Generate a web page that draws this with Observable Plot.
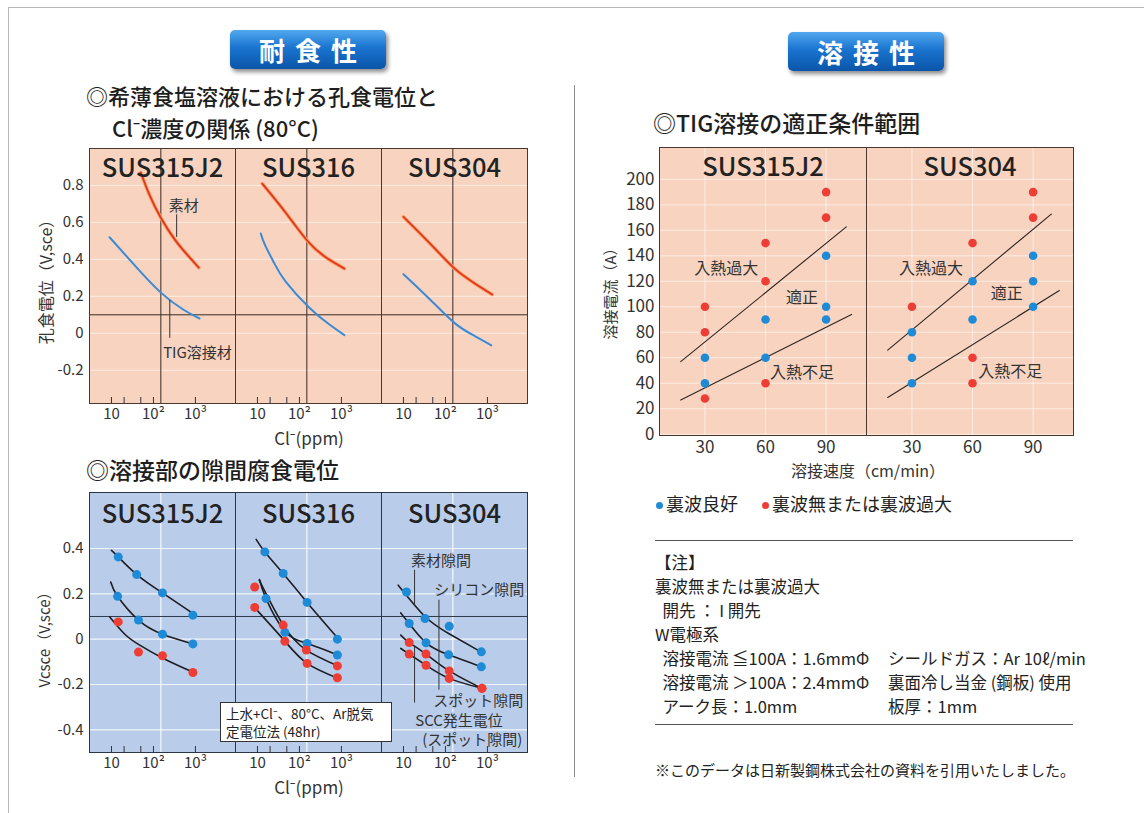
<!DOCTYPE html>
<html lang="ja"><head><meta charset="utf-8">
<script src="https://cdn.jsdelivr.net/npm/d3@7"></script>
<script src="https://cdn.jsdelivr.net/npm/@observablehq/plot@0.6"></script>
<style>
html,body{margin:0;padding:0;background:#fff;}
#page{position:relative;width:1144px;height:813px;overflow:hidden;font-family:"Noto Sans CJK JP","Noto Sans",sans-serif;color:#222;}
.a{position:absolute;white-space:nowrap;}
.btn{position:absolute;width:156px;height:39px;border-radius:5px;background:linear-gradient(180deg,#52a8ee 0%,#1a74d0 45%,#0a55a8 100%);box-shadow:2px 3px 4px rgba(0,0,0,.45);color:#fff;font-size:26px;font-weight:700;text-align:center;line-height:39px;letter-spacing:10px;text-indent:10px;}
.sec{font-size:23px;font-weight:500;line-height:26px;color:#1e1e1e;}
.rot{position:absolute;transform:translate(-50%,-50%) rotate(-90deg);white-space:nowrap;}
.ctr{position:absolute;transform:translate(-50%,-50%);white-space:nowrap;}
.note{font-size:16.5px;line-height:24px;color:#222;}
.chart{position:absolute;}
.dot{display:inline-block;width:7px;height:7px;border-radius:50%;margin-right:3px;vertical-align:middle;position:relative;top:-1px;}
</style></head><body><div id="page">
  <div class="a" style="left:8px;top:7px;width:1200px;height:900px;border-top:1px solid #b8b8b8;border-left:1px solid #b8b8b8;"></div>
  <div class="a" style="left:574px;top:85px;width:1px;height:692px;background:#8a8a8a;"></div>
  <div class="btn" style="left:230px;top:30px;">耐食性</div>
  <div class="btn" style="left:788px;top:32px;">溶接性</div>
  <div class="a sec" style="left:86px;top:82px;font-size:22px;">◎希薄食塩溶液における孔食電位と</div>
  <div class="a sec" style="left:112px;top:114px;font-size:22px;">Cl⁻濃度の関係 (80°C)</div>
  <div class="a sec" style="left:86px;top:456px;">◎溶接部の隙間腐食電位</div>
  <div class="a sec" style="left:653px;top:109px;">◎TIG溶接の適正条件範囲</div>

  <div id="chartA" class="chart" style="left:0;top:140px;"></div>
  <div id="chartB" class="chart" style="left:0;top:484px;"></div>
  <div id="chartC" class="chart" style="left:580px;top:139px;"></div>

  <div class="rot" style="left:45px;top:278px;font-size:16px;color:#333;">孔食電位（V,sce）</div>
  <div class="ctr" style="left:309px;top:437px;font-size:17px;color:#333;">Cl⁻(ppm)</div>
  <div class="rot" style="left:43px;top:636px;font-size:15px;color:#333;">Vcsce（V,sce）</div>
  <div class="ctr" style="left:309px;top:786px;font-size:17px;color:#333;">Cl⁻(ppm)</div>
  <div class="rot" style="left:609px;top:290px;font-size:15px;color:#333;">溶接電流（A）</div>
  <div class="ctr" style="left:868px;top:470px;font-size:16px;color:#333;">溶接速度（cm/min）</div>

  <div class="a" style="left:220px;top:702px;width:170px;height:38px;border:1px solid #333;background:#fff;box-sizing:content-box;color:#222;">
    <div class="a" style="left:5px;top:1px;font-size:13.5px;line-height:18px;">上水+Cl⁻、80°C、Ar脱気</div>
    <div class="a" style="left:5px;top:19px;font-size:13.5px;line-height:18px;">定電位法 (48hr)</div>
  </div>

  <div class="a" style="left:656px;top:491px;font-size:18px;line-height:24px;"><span class="dot" style="background:#1f8ad6"></span>裏波良好<span style="display:inline-block;width:24px"></span><span class="dot" style="background:#ee3d34"></span>裏波無または裏波過大</div>
  <div class="a" style="left:655px;top:540px;width:418px;height:1px;background:#555;"></div>
  <div class="a note" style="left:655px;top:550px;">【注】<br>裏波無または裏波過大<br>&nbsp;&nbsp;開先 ： I 開先<br>W電極系<br>&nbsp;&nbsp;溶接電流 ≦100A：1.6mmΦ<br>&nbsp;&nbsp;溶接電流 ＞100A：2.4mmΦ<br>&nbsp;&nbsp;アーク長：1.0mm</div>
  <div class="a note" style="left:888px;top:646px;">シールドガス：Ar 10ℓ/min<br>裏面冷し当金 (鋼板) 使用<br>板厚：1mm</div>
  <div class="a" style="left:655px;top:724px;width:418px;height:1px;background:#555;"></div>
  <div class="a" style="left:655px;top:759px;font-size:15px;line-height:22px;">※このデータは日新製鋼株式会社の資料を引用いたしました。</div>
</div>
<script>
// ---------- data ----------
const FACETS_CL = ["SUS315J2", "SUS316", "SUS304"];
const FACETS_TIG = ["SUS315J2", "SUS304"];
const CL_LABEL_TICKS = [10, 100, 1000];
const CL_MARK_TICKS = [10, 20, 50, 100, 1000];
const CL_REF_PPM = [150];
const V_REF = [0.1];
const PIT_Y_TICKS = [-0.2, 0, 0.2, 0.4, 0.6, 0.8];
const CREV_Y_TICKS = [-0.4, -0.2, 0, 0.2, 0.4];
const TIG_X_TICKS = [30, 60, 90];
const TIG_Y_TICKS = [0, 20, 40, 60, 80, 100, 120, 140, 160, 180, 200];

// 孔食電位 curves [Cl- ppm, V]
const pit_SUS315J2_base = [[50,0.87],[80,0.75],[150,0.625],[340,0.50],[700,0.415],[1200,0.355]];
const pit_SUS315J2_tig  = [[9,0.52],[40,0.355],[150,0.22],[500,0.13],[1250,0.08]];
const pit_SUS316_base   = [[13,0.81],[48,0.65],[170,0.49],[500,0.40],[1180,0.35]];
const pit_SUS316_tig    = [[12,0.54],[15,0.48],[25,0.38],[47,0.28],[170,0.14],[500,0.05],[1175,-0.01]];
const pit_SUS304_base   = [[10,0.63],[50,0.47],[166,0.35],[500,0.27],[1300,0.21]];
const pit_SUS304_tig    = [[10,0.32],[40,0.19],[166,0.055],[500,-0.015],[1240,-0.065]];

// 隙間腐食電位 measured points [ppm, V]
const crev_SUS315J2_1 = [[14.5,0.363],[40,0.285],[164,0.204],[870,0.106]];
const crev_SUS315J2_2 = [[14,0.189],[44,0.084],[164,0.022],[870,-0.021]];
const crev_SUS315J2_3 = [[14.5,0.076],[44,-0.057],[164,-0.073],[870,-0.147]];
const crev_SUS316_1 = [[15,0.385],[41,0.29],[152,0.162],[800,0.0]];
const crev_SUS316_2 = [[16,0.179],[45,0.03],[152,-0.019],[800,-0.07]];
const crev_SUS316_3 = [[8.6,0.23],[41,0.062],[146,-0.048],[800,-0.118]];
const crev_SUS316_4 = [[8.6,0.14],[45,-0.009],[152,-0.107],[800,-0.17]];
const crev_SUS304_1 = [[11.8,0.208],[32.6,0.091],[123,0.057],[716,-0.056]];
const crev_SUS304_2 = [[13.7,0.069],[34.5,-0.016],[119,-0.069],[716,-0.122]];
const crev_SUS304_3 = [[13.7,-0.015],[34.5,-0.066],[123,-0.14],[740,-0.217]];
const crev_SUS304_4 = [[13.7,-0.066],[34.5,-0.115],[123,-0.173],[740,-0.217]];
// fitted curves [ppm, V]
const fit_SUS315J2_1 = [[10,0.392],[14.5,0.363],[40,0.285],[164,0.204],[1000,0.106]];
const fit_SUS315J2_2 = [[9.6,0.252],[14,0.189],[44,0.084],[164,0.022],[920,-0.022]];
const fit_SUS315J2_3 = [[9.1,0.098],[20,0.025],[43,-0.022],[173,-0.085],[840,-0.144]];
const fit_SUS316_1 = [[9.3,0.44],[15,0.385],[41,0.29],[152,0.162],[830,0.003]];
const fit_SUS316_2 = [[11.2,0.263],[16,0.179],[45,0.035],[152,-0.019],[830,-0.07]];
const fit_SUS316_3 = [[11,0.26],[41,0.062],[146,-0.048],[830,-0.118]];
const fit_SUS316_4 = [[9,0.135],[45,-0.009],[152,-0.107],[830,-0.173]];
const fit_SUS304_1 = [[7.5,0.238],[32.6,0.10],[119,0.025],[700,-0.056]];
const fit_SUS304_2 = [[8.6,0.116],[13.7,0.069],[34.5,-0.016],[119,-0.069],[716,-0.122]];
const fit_SUS304_3 = [[8.6,0.018],[13.7,-0.015],[34.5,-0.066],[123,-0.14],[740,-0.217]];
const fit_SUS304_4 = [[8.6,-0.041],[13.7,-0.066],[34.5,-0.115],[123,-0.173],[740,-0.217]];

// TIG 溶接 [speed cm/min, current A]
const tig_SUS315J2_good = [[30,60],[30,40],[60,90],[60,60],[90,140],[90,100],[90,90]];
const tig_SUS315J2_bad  = [[30,100],[30,80],[30,28],[60,150],[60,120],[60,40],[90,190],[90,170]];
const tig_SUS304_good   = [[30,80],[30,60],[30,40],[60,120],[60,90],[90,140],[90,120],[90,100]];
const tig_SUS304_bad    = [[30,100],[60,150],[60,60],[60,40],[90,190],[90,170]];
const tigUpper_SUS315J2 = [[18,57],[100,162.7]];
const tigLower_SUS315J2 = [[18,26.8],[102.6,94]];
const tigUpper_SUS304   = [[18,66],[99,172.7]];
const tigLower_SUS304   = [[18,28.8],[103,112.8]];

// annotations
const pitLabels = [{facet:"SUS315J2", x:524, y:0.686, text:"素材"}, {facet:"SUS315J2", x:1120, y:-0.108, text:"TIG溶接材"}];
const pitLeaders = [{facet:"SUS315J2", x:357, y1:0.649, y2:0.519}, {facet:"SUS315J2", x:245, y1:0.178, y2:-0.027}];
const crevLabels = [
  {facet:"SUS304", x:78, y:0.344, text:"素材隙間"},
  {facet:"SUS304", x:642, y:0.216, text:"シリコン隙間"},
  {facet:"SUS304", x:607, y:-0.273, text:"スポット隙間"},
  {facet:"SUS304", x:211, y:-0.361, text:"SCC発生電位"},
  {facet:"SUS304", x:436, y:-0.445, text:"(スポット隙間)"}
];
const crevLeaders = [
  {facet:"SUS304", x:18.4, y1:0.304, y2:0.15},
  {facet:"SUS304", x:70, y1:0.172, y2:-0.225},
  {facet:"SUS304", x:18.4, y1:-0.035, y2:-0.282}
];
const tigLabels = [
  {facet:"SUS315J2", x:40.6, y:130, text:"入熱過大"},
  {facet:"SUS315J2", x:78, y:107, text:"適正"},
  {facet:"SUS315J2", x:78, y:48.5, text:"入熱不足"},
  {facet:"SUS304", x:39.5, y:130, text:"入熱過大"},
  {facet:"SUS304", x:77, y:110, text:"適正"},
  {facet:"SUS304", x:78.7, y:49, text:"入熱不足"}
];

// ---------- helpers ----------
const FONT = '"Noto Sans CJK JP", "Noto Sans", sans-serif';
const rows = (arr, facet, series) => arr.map(([x, y]) => ({facet, series, key: facet + "-" + series, x, y}));
const fmtPow = d => ({10: "10", 100: "10²", 1000: "10³"})[d] ?? "";
const fmtV = d => d === 0 ? "0" : d.toFixed(1);
const PEACH = "#f8d4c0", BLUE_BG = "#b9cdeb";
const RED = "#ee3d34", BLUEPT = "#1f8ad6";

// ---------- chart A ----------
const pitBase = [...rows(pit_SUS315J2_base,"SUS315J2","b"), ...rows(pit_SUS316_base,"SUS316","b"), ...rows(pit_SUS304_base,"SUS304","b")];
const pitTig = [...rows(pit_SUS315J2_tig,"SUS315J2","t"), ...rows(pit_SUS316_tig,"SUS316","t"), ...rows(pit_SUS304_tig,"SUS304","t")];
const styleBase = {fontFamily: FONT, fontSize: "15px", color: "#333", background: "transparent", overflow: "visible"};

const chartA = Plot.plot({
  width: 540, height: 303, marginLeft: 88, marginRight: 13, marginTop: 8, marginBottom: 40,
  style: styleBase,
  fx: {domain: FACETS_CL, padding: 0, axis: null},
  x: {type: "log", domain: [3, 9000], axis: null},
  y: {domain: [-0.38, 1.0], axis: null},
  marks: [
    Plot.frame({fill: PEACH}),
    Plot.gridY(PIT_Y_TICKS, {stroke: "#fff", strokeOpacity: 0.55}),
    Plot.ruleY(V_REF, {stroke: "#3b2a22"}),
    Plot.ruleX(CL_REF_PPM, {stroke: "#3b2a22"}),
    Plot.line(pitBase, {x: "x", y: "y", z: "key", fx: "facet", stroke: "#f6a45a", strokeWidth: 3.6, curve: "natural"}),
    Plot.line(pitBase, {x: "x", y: "y", z: "key", fx: "facet", stroke: "#e2342a", strokeWidth: 1.8, curve: "natural"}),
    Plot.line(pitTig, {x: "x", y: "y", z: "key", fx: "facet", stroke: "#3a8ad6", strokeWidth: 2, curve: "natural"}),
    Plot.ruleX(pitLeaders, {x: "x", y1: "y1", y2: "y2", fx: "facet", stroke: "#333"}),
    Plot.text(pitLabels, {x: "x", y: "y", text: "text", fx: "facet", fontSize: 15, fill: "#333", stroke: PEACH, strokeWidth: 3, paintOrder: "stroke"}),
    Plot.text(FACETS_CL, {fx: d => d, text: d => d, frameAnchor: "top", lineAnchor: "middle", dy: 20, fontSize: 25.5, fontWeight: 500, fill: "#222"}),
    Plot.tickX(CL_MARK_TICKS, {x: d => d, insetTop: 249, stroke: "#333"}),
    Plot.axisX(CL_LABEL_TICKS, {tickSize: 0, tickPadding: 5, tickFormat: fmtPow, fontSize: 15, label: null}),
    Plot.axisY(PIT_Y_TICKS, {tickSize: 0, tickPadding: 6, tickFormat: fmtV, fontSize: 15, label: null}),
    Plot.frame({stroke: "#4a3830"})
  ]
});
document.getElementById("chartA").append(chartA);

// ---------- chart B ----------
const crevBlue = [
  ...rows(crev_SUS315J2_1,"SUS315J2","1"), ...rows(crev_SUS315J2_2,"SUS315J2","2"),
  ...rows(crev_SUS316_1,"SUS316","1"), ...rows(crev_SUS316_2,"SUS316","2"),
  ...rows(crev_SUS304_1,"SUS304","1"), ...rows(crev_SUS304_2,"SUS304","2")];
const crevRed = [
  ...rows(crev_SUS315J2_3,"SUS315J2","3"),
  ...rows(crev_SUS316_3,"SUS316","3"), ...rows(crev_SUS316_4,"SUS316","4"),
  ...rows(crev_SUS304_3,"SUS304","3"), ...rows(crev_SUS304_4,"SUS304","4")];
const crevFits = [
  ...rows(fit_SUS315J2_1,"SUS315J2","1"), ...rows(fit_SUS315J2_2,"SUS315J2","2"), ...rows(fit_SUS315J2_3,"SUS315J2","3"),
  ...rows(fit_SUS316_1,"SUS316","1"), ...rows(fit_SUS316_2,"SUS316","2"), ...rows(fit_SUS316_3,"SUS316","3"), ...rows(fit_SUS316_4,"SUS316","4"),
  ...rows(fit_SUS304_1,"SUS304","1"), ...rows(fit_SUS304_2,"SUS304","2"), ...rows(fit_SUS304_3,"SUS304","3"), ...rows(fit_SUS304_4,"SUS304","4")];

const chartB = Plot.plot({
  width: 540, height: 308, marginLeft: 88, marginRight: 13, marginTop: 8, marginBottom: 40,
  style: styleBase,
  fx: {domain: FACETS_CL, padding: 0, axis: null},
  x: {type: "log", domain: [3, 9000], axis: null},
  y: {domain: [-0.5, 0.647], axis: null},
  marks: [
    Plot.frame({fill: BLUE_BG}),
    Plot.gridY(CREV_Y_TICKS, {stroke: "#fff", strokeOpacity: 0.8, strokeWidth: 1.2}),
    Plot.ruleX(CL_REF_PPM, {stroke: "#fff", strokeOpacity: 0.85, strokeWidth: 1.2}),
    Plot.ruleY(V_REF, {stroke: "#2e3a4c"}),
    Plot.line(crevFits, {x: "x", y: "y", z: "key", fx: "facet", stroke: "#1e1e22", strokeWidth: 1.6, curve: "natural"}),
    Plot.dot(crevBlue, {x: "x", y: "y", fx: "facet", r: 4.5, fill: BLUEPT}),
    Plot.dot(crevRed, {x: "x", y: "y", fx: "facet", r: 4.5, fill: RED}),
    Plot.ruleX(crevLeaders, {x: "x", y1: "y1", y2: "y2", fx: "facet", stroke: "#333"}),
    Plot.text(crevLabels, {x: "x", y: "y", text: "text", fx: "facet", fontSize: 15, fill: "#333", stroke: BLUE_BG, strokeWidth: 3, paintOrder: "stroke"}),
    Plot.text(FACETS_CL, {fx: d => d, text: d => d, frameAnchor: "top", lineAnchor: "middle", dy: 22, fontSize: 25.5, fontWeight: 500, fill: "#222"}),
    Plot.tickX(CL_MARK_TICKS, {x: d => d, insetTop: 254, stroke: "#333"}),
    Plot.axisX(CL_LABEL_TICKS, {tickSize: 0, tickPadding: 5, tickFormat: fmtPow, fontSize: 15, label: null}),
    Plot.axisY(CREV_Y_TICKS, {tickSize: 0, tickPadding: 6, tickFormat: fmtV, fontSize: 15, label: null}),
    Plot.frame({stroke: "#2a3547"})
  ]
});
document.getElementById("chartB").append(chartB);

// ---------- chart C ----------
const tigGood = [...rows(tig_SUS315J2_good,"SUS315J2","g"), ...rows(tig_SUS304_good,"SUS304","g")];
const tigBad = [...rows(tig_SUS315J2_bad,"SUS315J2","r"), ...rows(tig_SUS304_bad,"SUS304","r")];
const tigLines = [...rows(tigUpper_SUS315J2,"SUS315J2","u"), ...rows(tigLower_SUS315J2,"SUS315J2","l"),
                  ...rows(tigUpper_SUS304,"SUS304","u"), ...rows(tigLower_SUS304,"SUS304","l")];

const chartC = Plot.plot({
  width: 503, height: 326, marginLeft: 78, marginRight: 10, marginTop: 8, marginBottom: 30,
  style: {...styleBase, fontSize: "17px"},
  fx: {domain: FACETS_TIG, padding: 0, axis: null},
  x: {domain: [7.5, 110], axis: null},
  y: {domain: [-1, 225], axis: null},
  marks: [
    Plot.frame({fill: PEACH}),
    Plot.gridY(TIG_Y_TICKS, {stroke: "#fff", strokeOpacity: 0.55}),
    Plot.gridX(TIG_X_TICKS, {stroke: "#fff", strokeOpacity: 0.55}),
    Plot.line(tigLines, {x: "x", y: "y", z: "key", fx: "facet", stroke: "#2d2420", strokeWidth: 1.1}),
    Plot.dot(tigGood, {x: "x", y: "y", fx: "facet", r: 4.3, fill: BLUEPT}),
    Plot.dot(tigBad, {x: "x", y: "y", fx: "facet", r: 4.3, fill: RED}),
    Plot.text(tigLabels, {x: "x", y: "y", text: "text", fx: "facet", fontSize: 16, fill: "#333"}),
    Plot.text(FACETS_TIG, {fx: d => d, text: d => d, frameAnchor: "top", lineAnchor: "middle", dy: 20, fontSize: 25.5, fontWeight: 500, fill: "#222"}),
    Plot.axisX(TIG_X_TICKS, {tickSize: 0, tickPadding: 5, fontSize: 17, label: null}),
    Plot.axisY(TIG_Y_TICKS, {tickSize: 0, tickPadding: 5, fontSize: 17, label: null}),
    Plot.frame({stroke: "#4a3830"})
  ]
});
document.getElementById("chartC").append(chartC);
</script>
</body></html>
